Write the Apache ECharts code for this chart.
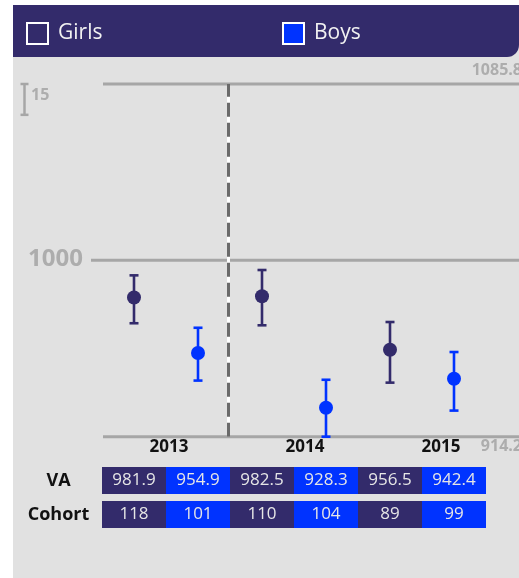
<!DOCTYPE html>
<html><head><meta charset="utf-8">
<script src="https://cdn.jsdelivr.net/npm/echarts@6/dist/echarts.min.js"></script>
<style>html,body{margin:0;padding:0;background:#fff;}#c{width:519px;height:578px;}</style>
</head><body><div id="c"></div>
<script>
// ---- data ----
const years = ['2013', '2014', '2015'];
const groups = ['Girls', 'Boys'];
const girlsVA = [981.9, 982.5, 956.5];
const boysVA = [954.9, 928.3, 942.4];
const girlsLow = [969.4, 968.4, 940.5];
const girlsHigh = [992.7, 995.3, 970.0];
const boysLow = [941.5, 914.2, 926.9];
const boysHigh = [967.2, 941.9, 955.4];
const girlsCohort = [118, 110, 89];
const boysCohort = [101, 104, 99];
const tableRows = ['VA', 'Cohort'];
const yTicks = [914.2, 1000, 1085.8];
const yTickLabels = ['914.2', '1000', '1085.8'];
const scaleBarSize = 15;
const separatorAt = 1.475;

// ---- styles ----
const NAVY = '#332b6b', BLUE = '#0033ff', LINE = '#a6a6a6', LABEL = '#adadad';
const FONT = 'Open Sans';
const yMin = yTicks[0], yMax = yTicks[yTicks.length - 1];
const GTOP = 84, GH = 352.7;

// derived series data (column 2*i girls, 2*i+1 boys)
const girlsPts = girlsVA.map((v, i) => [2 * i, v]);
const boysPts = boysVA.map((v, i) => [2 * i + 1, v]);
const girlsErr = girlsVA.map((v, i) => [2 * i, girlsLow[i], girlsHigh[i]]);
const boysErr = boysVA.map((v, i) => [2 * i + 1, boysLow[i], boysHigh[i]]);
const tableVals = [];
const tableText = [];
years.forEach((y, i) => {
  [[girlsVA, girlsCohort], [boysVA, boysCohort]].forEach((pair, g) => {
    const col = 2 * i + g;
    tableVals.push([col, 0]); tableText.push(pair[0][i].toFixed(1));
    tableVals.push([col, 1]); tableText.push(String(pair[1][i]));
  });
});

function renderErr(params, api) {
  const x = api.value(0);
  const lo = api.coord([x, api.value(1)]);
  const hi = api.coord([x, api.value(2)]);
  const hw = 4.5;
  const style = { stroke: api.visual('color'), lineWidth: 2.6 };
  return { type: 'group', children: [
    { type: 'line', shape: { x1: lo[0], y1: lo[1], x2: hi[0], y2: hi[1] }, style },
    { type: 'line', shape: { x1: lo[0] - hw, y1: lo[1], x2: lo[0] + hw, y2: lo[1] }, style },
    { type: 'line', shape: { x1: hi[0] - hw, y1: hi[1], x2: hi[0] + hw, y2: hi[1] }, style }
  ]};
}

function renderGridLine(params, api) {
  const idx = params.dataIndex;
  const cs = params.coordSys;
  const y = api.coord([0, api.value(1)])[1];
  const isMid = idx > 0 && idx < yTicks.length - 1;
  const x0 = cs.x + (isMid ? 0 : 12);
  const x1 = cs.x + cs.width;
  let ts;
  if (isMid) ts = { x: x0 - 8, y: y - 1, align: 'right', fontSize: 24 };
  else if (idx === yTicks.length - 1) ts = { x: x1 + 3, y: y - 14, align: 'right', fontSize: 16 };
  else ts = { x: x1 + 3, y: y + 10, align: 'right', fontSize: 16 };
  return { type: 'group', children: [
    { type: 'line', shape: { x1: x0, y1: y, x2: x1, y2: y }, style: { stroke: LINE, lineWidth: 3 } },
    { type: 'text', style: Object.assign({ text: yTickLabels[idx], verticalAlign: 'middle', fill: LABEL,
        fontFamily: FONT, fontWeight: 'bold' }, ts) }
  ]};
}

function renderScale(params, api) {
  const x = api.value(0);
  const hi = api.coord([x, api.value(1)]);
  const lo = api.coord([x, api.value(2)]);
  const hw = 4;
  const style = { stroke: LINE, lineWidth: 2.5 };
  return { type: 'group', children: [
    { type: 'line', shape: { x1: lo[0], y1: lo[1], x2: hi[0], y2: hi[1] }, style },
    { type: 'line', shape: { x1: lo[0] - hw, y1: lo[1], x2: lo[0] + hw, y2: lo[1] }, style },
    { type: 'line', shape: { x1: hi[0] - hw, y1: hi[1], x2: hi[0] + hw, y2: hi[1] }, style },
    { type: 'text', style: { x: hi[0] + 6.5, y: hi[1] + 11, text: String(scaleBarSize), verticalAlign: 'middle',
        fill: LABEL, fontFamily: FONT, fontWeight: 'bold', fontSize: 16 } }
  ]};
}

function renderCell(params, api) {
  const col = api.value(0), row = api.value(1);
  const c = api.coord([col, row]);
  const w = api.size([1, 0])[0];
  const h = 27;
  return { type: 'group', children: [
    { type: 'rect', shape: { x: c[0] - w / 2, y: c[1] - h / 2, width: w, height: h },
      style: { fill: col % 2 === 0 ? NAVY : BLUE } },
    { type: 'text', style: { x: c[0], y: c[1], text: tableText[params.dataIndex], align: 'center',
        verticalAlign: 'middle', fill: '#e6e6e6', fontFamily: FONT, fontSize: 17 } }
  ]};
}

const hiddenVal = (min, max, gi) => ({ type: 'value', gridIndex: gi, min, max, show: false });

const chart = echarts.init(document.getElementById('c'), null, { renderer: 'canvas' });
chart.setOption({
  animation: false,
  textStyle: { fontFamily: FONT },
  graphic: { elements: [
    { type: 'rect', z: 0, shape: { x: 13, y: 5, width: 506, height: 573 }, style: { fill: '#e1e1e1' } },
    { type: 'rect', z: 0, shape: { x: 13, y: 5, width: 506, height: 52, r: [0, 0, 12, 0] }, style: { fill: NAVY } }
  ]},
  legend: [
    { left: 26, top: 22, padding: 0, itemWidth: 21, itemHeight: 21, icon: 'rect', selectedMode: false,
      data: [{ name: groups[0], itemStyle: { color: 'rgba(0,0,0,0)', borderColor: '#fff', borderWidth: 2 } }],
      textStyle: { color: '#f2f2f2', fontSize: 21, fontFamily: FONT, padding: [0, 0, 0, 5] } },
    { left: 282, top: 22, padding: 0, itemWidth: 21, itemHeight: 21, icon: 'rect', selectedMode: false,
      data: [{ name: groups[1], itemStyle: { color: BLUE, borderColor: '#fff', borderWidth: 2 } }],
      textStyle: { color: '#f2f2f2', fontSize: 21, fontFamily: FONT, padding: [0, 0, 0, 5] } }
  ],
  grid: [
    { left: 102, width: 384, top: GTOP, height: GH },          // 0 points
    { left: 91, right: 0, top: GTOP, height: GH },             // 1 grid lines
    { left: 101, width: 408, top: GTOP, height: GH },          // 2 year labels
    { left: 102, width: 384, top: 463.5, height: 68 },          // 3 table
    { left: 20, width: 9, top: GTOP, height: GH }              // 4 scale bar
  ],
  xAxis: [
    hiddenVal(-0.5, 5.5, 0),
    hiddenVal(0, 1, 1),
    { type: 'category', gridIndex: 2, data: years, axisLine: { show: false }, axisTick: { show: false },
      axisLabel: { color: '#111', fontWeight: 'bold', fontSize: 17, margin: 2, fontFamily: FONT } },
    hiddenVal(-0.5, 5.5, 3),
    hiddenVal(0, 1, 4)
  ],
  yAxis: [
    hiddenVal(yMin, yMax, 0),
    hiddenVal(yMin, yMax, 1),
    hiddenVal(yMin, yMax, 2),
    { type: 'category', gridIndex: 3, data: tableRows, inverse: true, axisLine: { show: false },
      axisTick: { show: false }, splitLine: { show: false },
      axisLabel: { color: '#111', fontWeight: 'bold', fontSize: 18, align: 'center', margin: 43.5, fontFamily: FONT } },
    hiddenVal(yMin, yMax, 4)
  ],
  series: [
    { type: 'custom', name: 'gridlines', xAxisIndex: 1, yAxisIndex: 1, z: 1, silent: true,
      data: yTicks.map(v => [0, v]), renderItem: renderGridLine },
    { type: 'custom', name: 'scale', xAxisIndex: 4, yAxisIndex: 4, z: 1, silent: true,
      data: [[0.5, yMax, yMax - scaleBarSize]], renderItem: renderScale },
    { type: 'custom', name: 'Girls CI', xAxisIndex: 0, yAxisIndex: 0, z: 4, itemStyle: { color: NAVY },
      data: girlsErr, renderItem: renderErr },
    { type: 'custom', name: 'Boys CI', xAxisIndex: 0, yAxisIndex: 0, z: 4, itemStyle: { color: BLUE },
      data: boysErr, renderItem: renderErr },
    { type: 'scatter', name: groups[0], xAxisIndex: 0, yAxisIndex: 0, z: 5, symbolSize: 14,
      itemStyle: { color: NAVY, opacity: 1 }, data: girlsPts,
      markLine: { silent: true, symbol: 'none', z: 3, label: { show: false },
        lineStyle: { color: '#ffffff', width: 3, type: 'solid' }, data: [{ xAxis: separatorAt }] } },
    { type: 'scatter', name: groups[1], xAxisIndex: 0, yAxisIndex: 0, z: 5, symbolSize: 14,
      itemStyle: { color: BLUE, opacity: 1 }, data: boysPts,
      markLine: { silent: true, symbol: 'none', z: 3, label: { show: false },
        lineStyle: { color: '#6a6a6a', width: 3, type: [14, 6] }, data: [{ xAxis: separatorAt }] } },
    { type: 'custom', name: 'table', xAxisIndex: 3, yAxisIndex: 3, z: 2, silent: true,
      data: tableVals, renderItem: renderCell }
  ]
});
</script></body></html>
